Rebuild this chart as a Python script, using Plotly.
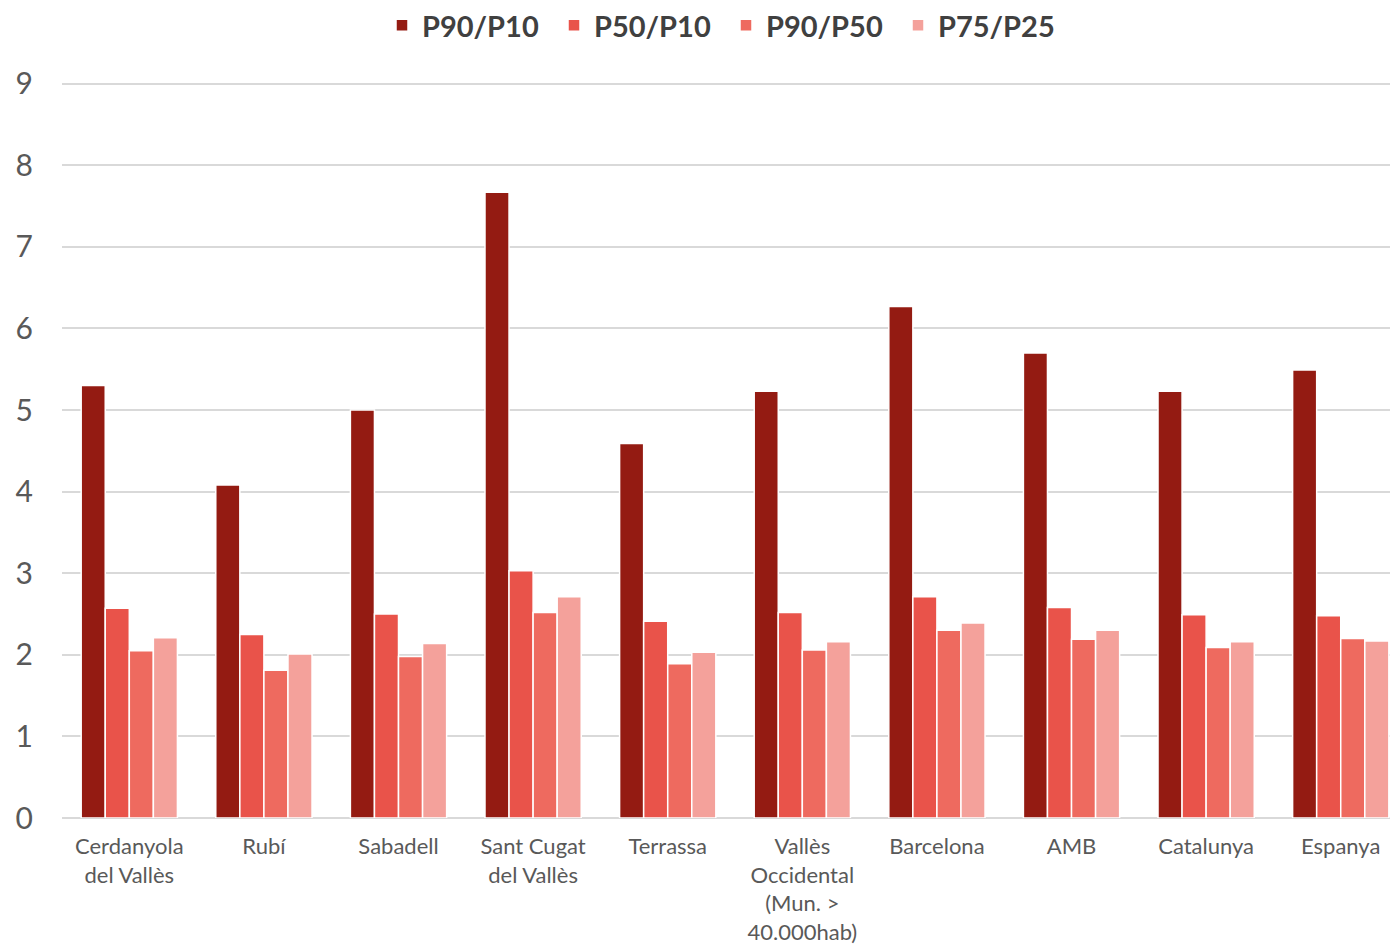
import plotly.graph_objects as go

categories = ["Cerdanyola<br>del Vallès", "Rubí", "Sabadell", "Sant Cugat<br>del Vallès", "Terrassa",
              "Vallès<br>Occidental<br>(Mun. ><br>40.000hab)", "Barcelona", "AMB", "Catalunya", "Espanya"]
p90_p10 = [5.30, 4.08, 5.00, 7.67, 4.59, 5.23, 6.27, 5.70, 5.23, 5.49]
p50_p10 = [2.57, 2.25, 2.50, 3.03, 2.41, 2.52, 2.71, 2.58, 2.49, 2.48]
p90_p50 = [2.05, 1.81, 1.98, 2.52, 1.89, 2.06, 2.30, 2.19, 2.09, 2.20]
p75_p25 = [2.21, 2.01, 2.14, 2.71, 2.03, 2.16, 2.39, 2.30, 2.16, 2.17]

series = [
    ("P90/P10", p90_p10, "#941B12"),
    ("P50/P10", p50_p10, "#E9534A"),
    ("P90/P50", p90_p50, "#EE6A5F"),
    ("P75/P25", p75_p25, "#F4A19B"),
]

x_idx = list(range(len(categories)))

fig = go.Figure()
for name, vals, col in series:
    fig.add_trace(go.Bar(x=x_idx, y=vals, name=name,
                         marker=dict(color=col, line=dict(color="white", width=1.5))))

fig.update_layout(
    width=1390,
    height=946,
    barmode="group",
    bargap=0.285,
    bargroupgap=0,
    plot_bgcolor="white",
    paper_bgcolor="white",
    font=dict(family="Lato", color="#595959"),
    margin=dict(l=62, r=0, t=82, b=128, autoexpand=False),
    legend=dict(orientation="h", x=0.5, xanchor="center", xref="paper",
                y=1.0, yanchor="top", yref="container",
                font=dict(size=29, color="#404040", family="Lato", weight="bold"),
                entrywidth=127, entrywidthmode="pixels",
                itemwidth=30, traceorder="normal"),
    xaxis=dict(tickmode="array", tickvals=x_idx, ticktext=categories,
               range=[-0.5, 9.366], tickfont=dict(size=22, color="#595959"),
               showgrid=False, showline=False, ticks="", zeroline=False,
               automargin=False, ticklabelstandoff=13),
    yaxis=dict(range=[0, 9.02], dtick=1, tickfont=dict(size=30, color="#595959"),
               gridcolor="#D9D9D9", gridwidth=1.5, zeroline=True, zerolinecolor="#D9D9D9",
               zerolinewidth=1.5, showline=False, ticks="", ticklabelstandoff=28,
               automargin=False),
)

fig.write_html(
    "out.html",
    config={"displayModeBar": False},
    post_script="document.body.style.margin='0';document.body.style.overflow='hidden';",
)
